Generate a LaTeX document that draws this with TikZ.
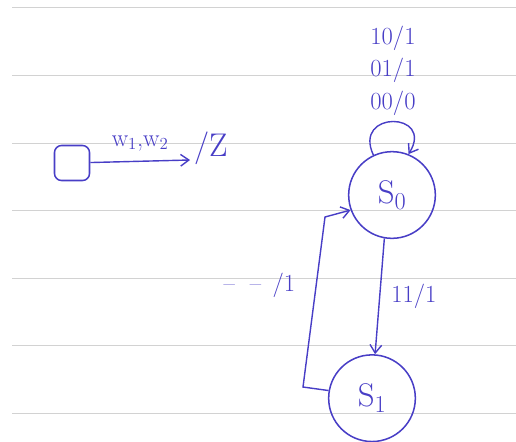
\documentclass[tikz,border=0pt]{standalone}
\usepackage{tikz}
\usetikzlibrary{arrows.meta, positioning, backgrounds}
\definecolor{ink}{RGB}{72,62,198}

\begin{document}
\begin{tikzpicture}[
    x=0.03cm, y=-0.03cm,
    state/.style={circle, draw=ink, line width=1.3pt, minimum size=2.6cm, inner sep=0pt, text=ink, font=\fontsize{28}{30}\selectfont},
    initbox/.style={rectangle, draw=ink, line width=1.3pt, rounded corners=6pt, minimum size=1.05cm},
    arr/.style={-{Straight Barb[length=7pt, width=10pt]}, draw=ink, line width=1.2pt},
    lbl/.style={text=ink, font=\fontsize{21}{28}\selectfont},
    rule/.style={gray!35, line width=0.8pt},
]
\useasboundingbox (0,0) rectangle (516,441);

% paper rules
\foreach \y in {7,75,143,210,278,345,413}
    \draw[rule] (12,\y) -- (516,\y);

% states
\node[initbox] (init) at (72,163) {};
\node[state] (s0) at (392,195) {S$_0$};
\node[state, below=3.45cm of s0, xshift=-0.6cm] (s1) {S$_1$};
\coordinate (initend) at (190,160);
\coordinate (back1) at (303,387);
\coordinate (back2) at (325,217);

% transitions
\draw[arr] (init) -- node[lbl, above=5pt, pos=0.5] {w$_1$,w$_2$} (initend);
\node[lbl, right=0pt of initend, yshift=0.35cm, font=\fontsize{28}{30}\selectfont] (outz) {/Z};
\draw[arr] (s0.115) .. controls +(-115:50) and +(-58:50) .. node[lbl, above=1pt, align=center] {10/1\\01/1\\00/0} (s0.68);
\draw[arr] (s0.-100) -- node[lbl, right=6pt] {11/1} (s1.86);
\draw[arr] (s1.170) -- (back1) -- node[lbl, left=14pt, pos=0.6] {--\ \ --\ \,/1} (back2) -- (s0.200);

\end{tikzpicture}
\end{document}
